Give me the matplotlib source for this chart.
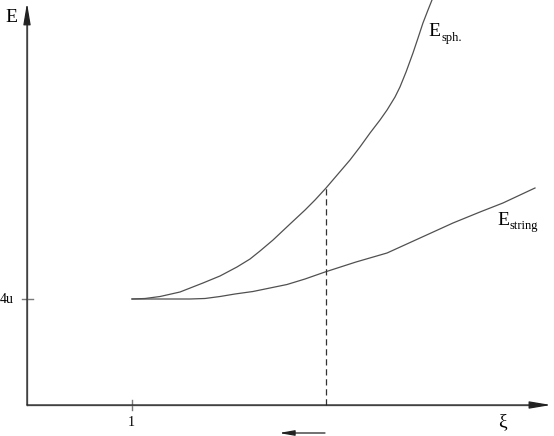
import matplotlib
matplotlib.use("Agg")
import matplotlib.pyplot as plt

plt.rcParams['font.family'] = ['Liberation Serif', 'DejaVu Serif']

# data in units: xi, and E in units of u
xi_sph = [1.000, 1.124, 1.267, 1.457, 1.676, 1.838, 2.000, 2.124, 2.219, 2.343, 2.505, 2.648,
          2.743, 2.848, 2.962, 3.076, 3.171, 3.267, 3.362, 3.429, 3.505, 3.552, 3.610, 3.676,
          3.724, 3.771, 3.819, 3.857]
E_sph = [4.000, 4.019, 4.094, 4.264, 4.604, 4.868, 5.208, 5.509, 5.811, 6.226, 6.830, 7.358,
         7.736, 8.189, 8.717, 9.245, 9.736, 10.264, 10.755, 11.132, 11.623, 12.000, 12.566, 13.283,
         13.849, 14.415, 14.906, 15.283]

xi_str = [1.000, 1.171, 1.362, 1.552, 1.695, 1.838, 1.981, 2.152, 2.314, 2.476, 2.648,
          2.838, 3.133, 3.429, 3.743, 4.057, 4.314, 4.533, 4.838]
E_str = [4.000, 4.000, 4.000, 4.000, 4.019, 4.094, 4.189, 4.283, 4.415, 4.547, 4.755,
         5.019, 5.396, 5.736, 6.302, 6.868, 7.283, 7.623, 8.189]

xi_cut = 2.848
E_cut = 8.189
tick_x = [1]
tick_x_labels = ['1']
tick_y = [4]
tick_y_labels = ['4u']

fig = plt.figure(figsize=(5.54, 4.36), dpi=100)
ax = fig.add_axes([0, 0, 1, 1])
ax.set_xlim(-27/105, 527/105)
ax.set_ylim(-31/26.5, 405/26.5)
ax.set_axis_off()

axc = '#7a7a7a'
cc = '#505050'

# axes with arrows
ax.annotate('', xy=(0, 15.17), xytext=(0, 0),
            arrowprops=dict(arrowstyle='-|>,head_length=1.3,head_width=0.22', color='#222222', lw=0.9,
                            shrinkA=0, shrinkB=0))
ax.plot([0, 0], [0, 14.5], color=axc, lw=1.0)
ax.annotate('', xy=(4.99, 0), xytext=(0, 0),
            arrowprops=dict(arrowstyle='-|>,head_length=1.3,head_width=0.22', color='#222222', lw=0.9,
                            shrinkA=0, shrinkB=0))
ax.plot([0, 4.85], [0, 0], color=axc, lw=1.0)

# ticks
for t, lab in zip(tick_x, tick_x_labels):
    ax.plot([t, t], [-5/26.5, 5/26.5], color=axc, lw=1.0)
    ax.text(t - 0.01, -17/26.5, lab, ha='center', va='center', fontsize=10)
for t, lab in zip(tick_y, tick_y_labels):
    ax.plot([-5/105, 6/105], [t, t], color=axc, lw=1.0)
    ax.text(-13/105, t, lab, ha='right', va='center', fontsize=10)

# curves
ax.plot(xi_sph, E_sph, color=cc, lw=0.9, clip_on=False)
ax.plot(xi_str, E_str, color=cc, lw=0.9)
ax.plot([xi_cut, xi_cut], [0, E_cut], color='#333333', lw=0.9, ls=(0, (5, 3)))

# labels
ax.text(-22/105, 15.28 - 17/26.5, 'E', fontsize=14, ha='left', va='center')
ax.text(471/105, -17/26.5, 'ξ', fontsize=14, ha='left', va='center')

ax.text(401/105, (405 - 32)/26.5, 'E', fontsize=14, ha='left', va='center')
ax.text(414/105, (405 - 38)/26.5, 'sph.', fontsize=9, ha='left', va='center')
ax.text(470/105, (405 - 220)/26.5, 'E', fontsize=14, ha='left', va='center')
ax.text(483/105, (405 - 226)/26.5, 'string', fontsize=9, ha='left', va='center')

# arrow below axis
ax.annotate('', xy=(252/105, -28/26.5), xytext=(298/105, -28/26.5),
            arrowprops=dict(arrowstyle='-|>,head_length=0.9,head_width=0.16', color='#222222', lw=0.9,
                            shrinkA=0, shrinkB=0), annotation_clip=False)

fig.savefig('out.png', dpi=100)
